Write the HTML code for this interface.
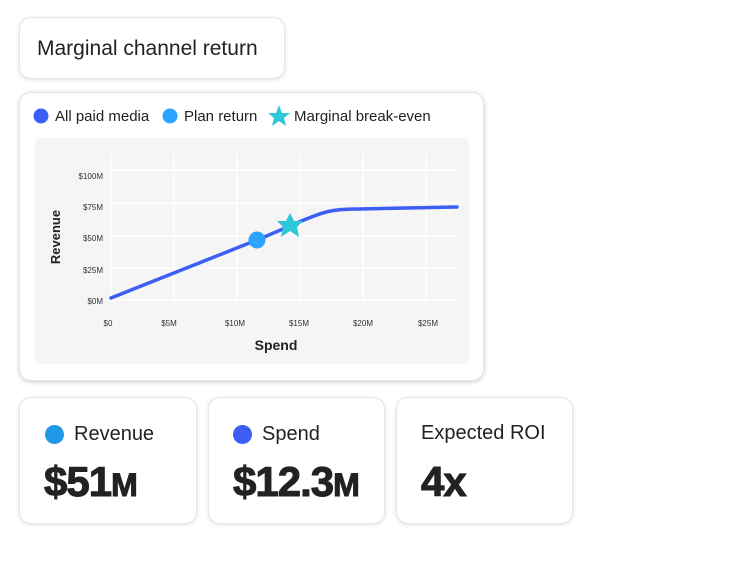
<!DOCTYPE html>
<html><head><style>
body{margin:0;width:750px;height:563px;background:#fff;font-family:"Liberation Sans",sans-serif;position:relative;overflow:hidden}
.card{position:absolute;background:#fff;border:1px solid #e6e6e6;border-radius:12px;box-shadow:0 1px 4px rgba(0,0,0,.12)}
.lbl{position:absolute;font-size:20px;color:#222}
.big{position:absolute;font-size:42px;font-weight:bold;color:#222;letter-spacing:-1px;-webkit-text-stroke:1px #222}
.dot{position:absolute;width:19px;height:19px;border-radius:50%}
</style></head><body>
<div class="card" style="left:19px;top:17px;width:264px;height:60px"><div style="position:absolute;left:17px;top:19px;font-size:21px;color:#222">Marginal channel return</div></div>
<div class="card" style="left:19px;top:92px;width:463px;height:287px;box-shadow:0 1px 5px rgba(0,0,0,.2)">
<svg width="463" height="287" style="position:absolute;left:-1px;top:-1px" font-family="Liberation Sans, sans-serif">
<circle cx="22" cy="24" r="7.5" fill="#3d5ef5"/><text x="36" y="29" font-size="15" fill="#222">All paid media</text>
<circle cx="151" cy="24" r="7.5" fill="#2da2ff"/><text x="165" y="29" font-size="15" fill="#222">Plan return</text>
<polygon points="260,13 263,21 271,21 265,26 267,34 260,29 253,34 255,26 249,21 257,21" fill="#2dc8d8"/><text x="275" y="29" font-size="15" fill="#222">Marginal break-even</text>
<rect x="16" y="46" width="434" height="226" rx="6" fill="#f5f5f5"/>
<g stroke="#fff" stroke-width="1.5">
<line x1="92" y1="61" x2="92" y2="210"/><line x1="155" y1="61" x2="155" y2="210"/><line x1="218" y1="61" x2="218" y2="210"/><line x1="281" y1="61" x2="281" y2="210"/><line x1="344" y1="61" x2="344" y2="210"/><line x1="407" y1="61" x2="407" y2="210"/>
<line x1="92" y1="78" x2="438" y2="78"/><line x1="92" y1="111" x2="438" y2="111"/><line x1="92" y1="144" x2="438" y2="144"/><line x1="92" y1="176" x2="438" y2="176"/><line x1="92" y1="208" x2="438" y2="208"/>
</g>
<g font-size="8" fill="#333" text-anchor="end">
<text x="84" y="87">$100M</text><text x="84" y="118">$75M</text><text x="84" y="149">$50M</text><text x="84" y="181">$25M</text><text x="84" y="212">$0M</text>
</g>
<g font-size="8" fill="#333" text-anchor="middle">
<text x="89" y="234">$0</text><text x="150" y="234">$5M</text><text x="216" y="234">$10M</text><text x="280" y="234">$15M</text><text x="344" y="234">$20M</text><text x="409" y="234">$25M</text>
</g>
<text x="257" y="258" font-size="14" font-weight="bold" fill="#222" text-anchor="middle">Spend</text>
<text transform="translate(41,145) rotate(-90)" font-size="13" font-weight="bold" fill="#222" text-anchor="middle">Revenue</text>
<path d="M92,206 L238,148 L271,134 Q300,121 312,119 Q322,117 340,117 L438,115" fill="none" stroke="#3d5ef5" stroke-width="3.5" stroke-linecap="round"/>
<circle cx="238" cy="148" r="8.5" fill="#2da2ff"/>
<polygon points="271,121 275,129 284,129 278,135 280,145 271,139 262,145 264,135 258,129 267,129" fill="#2dc8d8"/>
</svg></div>
<div class="card" style="left:19px;top:397px;width:176px;height:125px"><div class="dot" style="left:25px;top:27px;background:#1f98e8"></div><div class="lbl" style="left:54px;top:25px">Revenue</div><div class="big" style="left:24px;top:60px">$51<span style="font-size:32px">M</span></div></div>
<div class="card" style="left:208px;top:397px;width:175px;height:125px"><div class="dot" style="left:24px;top:27px;background:#3d5ef5"></div><div class="lbl" style="left:53px;top:25px">Spend</div><div class="big" style="left:24px;top:60px">$12.3<span style="font-size:32px">M</span></div></div>
<div class="card" style="left:396px;top:397px;width:175px;height:125px"><div class="lbl" style="left:24px;top:24px">Expected ROI</div><div class="big" style="left:24px;top:60px">4x</div></div>
</body></html>
